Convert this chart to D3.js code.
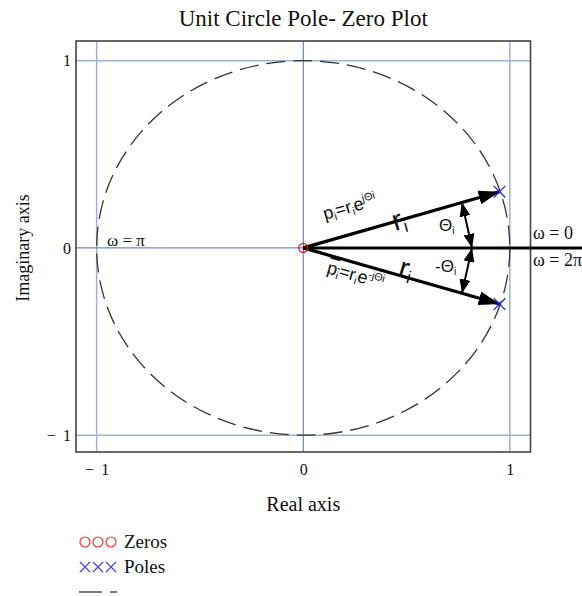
<!DOCTYPE html>
<html>
<head>
<meta charset="utf-8">
<script src="https://cdn.jsdelivr.net/npm/d3@7"></script>
<style>
    body { margin: 0; background: #fff; }
    svg text { fill: #111; }
    .serif { font-family: "Liberation Serif", "DejaVu Serif", serif; }
    .sans { font-family: "Liberation Sans", Arial, sans-serif; }
</style>
</head>
<body>
<script>
//Data
var zerosRe = [0];
var zerosIm = [0];
var polesRe = [0.95, 0.95];
var polesIm = [0.30, -0.30];
var circleRadius = [1];
var gridValues = [-1, 0, 1];
var xTicks = [-1, 0, 1];
var yTicks = [-1, 0, 1];
//real part where the theta arrows touch the pole ray and the real axis
var thetaArrowRe = [0.768, 0.817];

var width = 582, heigth = 596;

var x = d3.scaleLinear().domain([-1.1, 1.1]).range([76, 530.5]);
var y = d3.scaleLinear().domain([-1.09, 1.105]).range([452, 41]);

var svg = d3.select("body").append("svg")
        .attr("width", width)
        .attr("height", heigth);

var defs = svg.append("defs");
defs.append("marker")
        .attr("id", "bigHead")
        .attr("markerUnits", "userSpaceOnUse")
        .attr("markerWidth", 22).attr("markerHeight", 14)
        .attr("refX", 21).attr("refY", 7)
        .attr("orient", "auto")
        .append("path")
        .attr("d", "M0,0 L21,7 L0,14 Z")
        .attr("fill", "#000");
defs.append("marker")
        .attr("id", "smallHead")
        .attr("markerUnits", "userSpaceOnUse")
        .attr("markerWidth", 15).attr("markerHeight", 11)
        .attr("refX", 14).attr("refY", 5.5)
        .attr("orient", "auto-start-reverse")
        .append("path")
        .attr("d", "M0,0 L14,5.5 L0,11 Z")
        .attr("fill", "#000");

///////////////////////// grid /////////////////////////
svg.append("g")
        .selectAll("line.vgrid")
        .data(gridValues)
        .enter().append("line")
        .attr("x1", function(d) { return x(d); })
        .attr("x2", function(d) { return x(d); })
        .attr("y1", y.range()[0]).attr("y2", y.range()[1])
        .attr("stroke", function(d) { return d === 0 ? "#4b6fa8" : "#9db3d3"; })
        .attr("stroke-width", function(d) { return d === 0 ? 1 : 1.5; });

svg.append("g")
        .selectAll("line.hgrid")
        .data(gridValues)
        .enter().append("line")
        .attr("y1", function(d) { return y(d); })
        .attr("y2", function(d) { return y(d); })
        .attr("x1", x.range()[0]).attr("x2", x.range()[1])
        .attr("stroke", function(d) { return d === 0 ? "#4b6fa8" : "#9db3d3"; })
        .attr("stroke-width", function(d) { return d === 0 ? 1 : 1.5; });

//frame
svg.append("rect")
        .attr("x", x.range()[0]).attr("y", y.range()[1])
        .attr("width", x.range()[1] - x.range()[0])
        .attr("height", y.range()[0] - y.range()[1])
        .attr("fill", "none")
        .attr("stroke", "#444")
        .attr("stroke-width", 1.6);

///////////////////////// axes /////////////////////////
function fmt(d) {
    return d < 0 ? "\u2212\u2009 " + Math.abs(d) : String(d);
}
var xAxis = svg.append("g")
        .attr("transform", "translate(0," + (y.range()[0] + 6) + ")")
        .call(d3.axisBottom(x).tickValues(xTicks).tickSize(0).tickFormat(fmt));
var yAxis = svg.append("g")
        .attr("transform", "translate(" + (x.range()[0] - 2) + ",0)")
        .call(d3.axisLeft(y).tickValues(yTicks).tickSize(0).tickFormat(fmt));
[xAxis, yAxis].forEach(function(a) {
    a.select(".domain").remove();
    a.selectAll("text")
            .attr("class", "serif")
            .style("font-size", "16px")
            .attr("fill", "#222");
});
xAxis.selectAll("text").attr("dy", "0.9em");

///////////////////////// unit circle /////////////////////////
svg.append("g")
        .selectAll("ellipse")
        .data(circleRadius)
        .enter().append("ellipse")
        .attr("cx", x(0)).attr("cy", y(0))
        .attr("rx", function(d) { return x(d) - x(0); })
        .attr("ry", function(d) { return y(0) - y(d); })
        .attr("fill", "none")
        .attr("stroke", "#333")
        .attr("stroke-width", 1.3)
        .attr("stroke-dasharray", "19,8");

//thick real axis line from the zero out past the frame
svg.append("line")
        .attr("x1", x(0)).attr("x2", width)
        .attr("y1", y(0)).attr("y2", y(0))
        .attr("stroke", "#000")
        .attr("stroke-width", 3);

//pole vectors
svg.append("g")
        .selectAll("line")
        .data(d3.range(polesRe.length))
        .enter().append("line")
        .attr("x1", x(0)).attr("y1", y(0))
        .attr("x2", function(i) { return x(polesRe[i]); })
        .attr("y2", function(i) { return y(polesIm[i]); })
        .attr("stroke", "#000")
        .attr("stroke-width", 3.2)
        .attr("marker-end", "url(#bigHead)");

//theta arrows
svg.append("g")
        .selectAll("line")
        .data(d3.range(polesRe.length))
        .enter().append("line")
        .attr("x1", x(thetaArrowRe[0]))
        .attr("y1", function(i) { return y(thetaArrowRe[0] * polesIm[i] / polesRe[i]); })
        .attr("x2", x(thetaArrowRe[1]))
        .attr("y2", y(0))
        .attr("stroke", "#000")
        .attr("stroke-width", 2)
        .attr("marker-start", "url(#smallHead)")
        .attr("marker-end", "url(#smallHead)");

///////////////////////// zeros and poles /////////////////////////
svg.append("g")
        .selectAll("circle")
        .data(d3.range(zerosRe.length))
        .enter().append("circle")
        .attr("cx", function(i) { return x(zerosRe[i]); })
        .attr("cy", function(i) { return y(zerosIm[i]); })
        .attr("r", 4.5)
        .attr("fill", "none")
        .attr("stroke", "#f00")
        .attr("stroke-width", 1.3);

var cross = d3.symbol().type(d3.symbolX).size(90);
svg.append("g")
        .selectAll("path")
        .data(d3.range(polesRe.length))
        .enter().append("path")
        .attr("d", cross)
        .attr("transform", function(i) {
            return "translate(" + x(polesRe[i]) + "," + y(polesIm[i]) + ")";
        })
        .attr("fill", "none")
        .attr("stroke", "#22f")
        .attr("stroke-width", 1.3);

///////////////////////// annotations /////////////////////////
var ang = Math.atan2(y(0) - y(polesIm[0]), x(polesRe[0]) - x(0)) * 180 / Math.PI;

function label(tx, ty, rot, size, parts) {
    var t = svg.append("text")
            .attr("class", "sans")
            .attr("transform", "translate(" + tx + "," + ty + ") rotate(" + rot + ")")
            .style("font-size", size + "px");
    parts.forEach(function(p) {
        var s = t.append("tspan").text(p.t);
        if (p.sub) s.style("font-size", (size * 0.6) + "px").attr("baseline-shift", "-25%");
        if (p.sup) s.style("font-size", (size * 0.6) + "px").attr("baseline-shift", "60%");
        if (p.over) s.style("text-decoration", "overline");
    });
    return t;
}

label(325, 220, -ang, 18, [{t: "p"}, {t: "i", sub: 1}, {t: "=r"}, {t: "i", sub: 1}, {t: "e"}, {t: "j\u0398", sup: 1}, {t: "i", sup: 1}]);
label(326, 273, ang, 18, [{t: "p", over: 1}, {t: "i", sub: 1, over: 1}, {t: "=r"}, {t: "i", sub: 1}, {t: "e"}, {t: "-j\u0398", sup: 1}, {t: "i", sup: 1}]);
label(395, 231, -ang, 29, [{t: "r"}, {t: "i", sub: 1}]);
label(397, 276, ang, 29, [{t: "r"}, {t: "i", sub: 1}]);
label(439, 231, 0, 17, [{t: "\u0398"}, {t: "i", sub: 1}]);
label(435, 272, 0, 17, [{t: "-\u0398"}, {t: "i", sub: 1}]);

svg.append("text").attr("class", "serif")
        .attr("x", 533).attr("y", 239)
        .style("font-size", "18px")
        .text("\u03c9 = 0");
svg.append("text").attr("class", "serif")
        .attr("x", 533).attr("y", 266)
        .style("font-size", "18px")
        .text("\u03c9 = 2\u03c0");
svg.append("text").attr("class", "serif")
        .attr("x", 107).attr("y", 246)
        .style("font-size", "17px")
        .text("\u03c9 = \u03c0");

///////////////////////// titles /////////////////////////
svg.append("text").attr("class", "serif")
        .attr("x", x(0)).attr("y", 26)
        .attr("text-anchor", "middle")
        .style("font-size", "23px")
        .text("Unit Circle Pole- Zero Plot");
svg.append("text").attr("class", "serif")
        .attr("x", x(0)).attr("y", 511)
        .attr("text-anchor", "middle")
        .style("font-size", "20px")
        .text("Real axis");
svg.append("text").attr("class", "serif")
        .attr("transform", "translate(29," + y(0) + ") rotate(-90)")
        .attr("text-anchor", "middle")
        .style("font-size", "18px")
        .text("Imaginary axis");

///////////////////////// legend /////////////////////////
var legX = [85, 98, 111];
var leg = svg.append("g");
leg.selectAll("circle")
        .data(legX)
        .enter().append("circle")
        .attr("cx", function(d) { return d; })
        .attr("cy", 542)
        .attr("r", 5)
        .attr("fill", "none")
        .attr("stroke", "#f33")
        .attr("stroke-width", 1.2);
leg.selectAll("path")
        .data(legX)
        .enter().append("path")
        .attr("d", d3.symbol().type(d3.symbolX).size(70))
        .attr("transform", function(d) { return "translate(" + d + ",567)"; })
        .attr("fill", "none")
        .attr("stroke", "#33f")
        .attr("stroke-width", 1.3);
leg.append("line")
        .attr("x1", 79).attr("x2", 102)
        .attr("y1", 592).attr("y2", 592)
        .attr("stroke", "#333").attr("stroke-width", 1.3);
leg.append("line")
        .attr("x1", 110).attr("x2", 117)
        .attr("y1", 592).attr("y2", 592)
        .attr("stroke", "#333").attr("stroke-width", 1.3);
leg.append("text").attr("class", "serif")
        .attr("x", 124).attr("y", 548)
        .style("font-size", "19px")
        .text("Zeros");
leg.append("text").attr("class", "serif")
        .attr("x", 124).attr("y", 573)
        .style("font-size", "19px")
        .text("Poles");
</script>
</body>
</html>
